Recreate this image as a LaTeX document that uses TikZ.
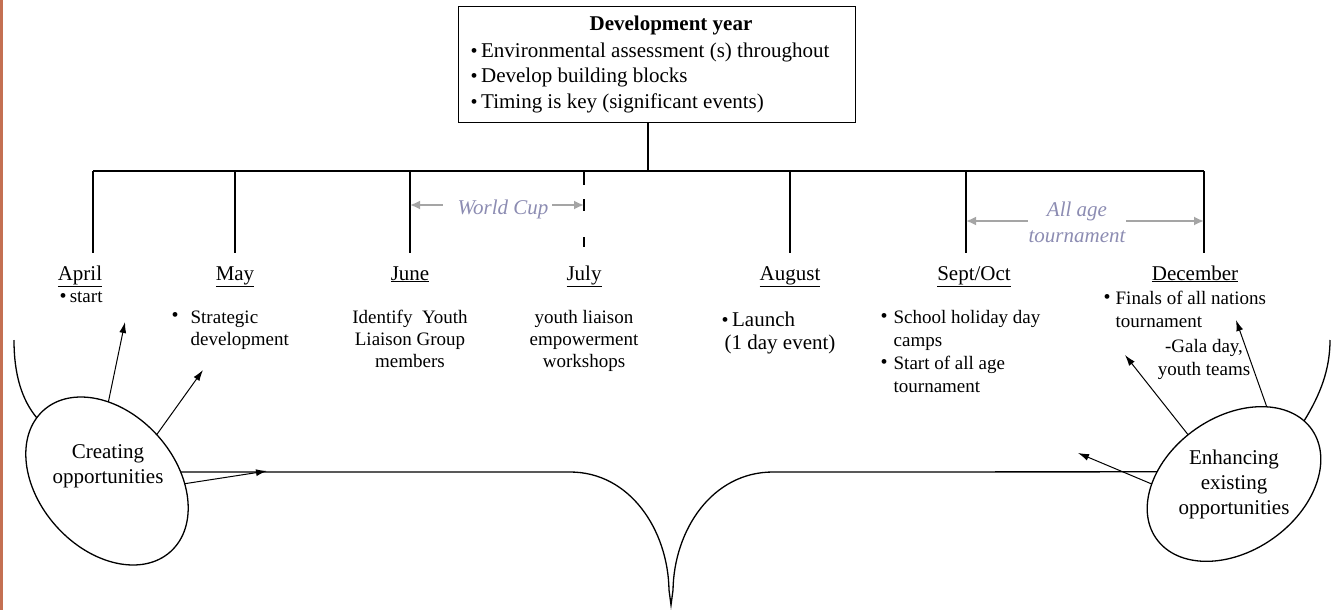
\documentclass[tikz,border=0pt]{standalone}
\usepackage{fontspec}
\setmainfont{Liberation Serif}
\usetikzlibrary{arrows.meta,shapes.geometric}
\definecolor{copper}{RGB}{196,112,82}
\definecolor{spangray}{RGB}{165,165,165}
\definecolor{spantext}{RGB}{140,140,178}
\newcommand{\dotmark}{{\fontsize{20}{20}\selectfont\textbullet}}

\begin{document}
\begin{tikzpicture}[x=1pt, y=-1pt, line width=1.3pt]
  \useasboundingbox (0,0) rectangle (1335,610);
  \tikzstyle{every node}=[inner sep=0pt, font=\fontsize{21}{25}\selectfont]
  \tikzstyle{small}=[font=\fontsize{19}{22}\selectfont]
  \tikzstyle{ring}=[draw, ellipse, inner sep=0pt, outer sep=0pt]
  \tikzstyle{push}=[-{Latex[length=11pt, width=7pt]}, line width=1pt]
  \tikzstyle{span}=[draw=spangray, -{Latex[length=10pt, width=9pt]}, line width=1.8pt]
  \tikzstyle{spanlabel}=[text=spantext, font=\fontsize{21}{26}\selectfont\itshape]
  \tikzstyle{julydash}=[dash pattern=on 14pt off 14pt on 12pt off 26pt on 10pt]

  \fill[copper] (0,0) rectangle (2.5,610);

  % development year box
  \node[draw, minimum width=397pt, minimum height=116pt, anchor=north west] (year) at (458,6) {};
  \path (671,31) node[anchor=base, font=\fontsize{21}{25}\selectfont\bfseries] (yeartitle) {Development year};
  \foreach \i/\txt in {0/Environmental assessment (s) throughout, 1/Develop building blocks, 2/Timing is key (significant events)}
  {
    \path (470, 57+\i*25.5) node[anchor=base west] (yb\i) {\dotmark\,\txt};
  }

  % timeline bar and months
  \coordinate (bar) at (648,171);
  \coordinate (barL) at (93,171);
  \coordinate (barR) at (1204,171);
  \draw (bar |- year.south) -- (bar);
  \draw (barL) -- (barR);
  \foreach \x/\lx/\n/\s/\t in {93/80/apr/solid/April, 235/235/may/solid/May, 410/410/jun/solid/June,
    584/584/jul/julydash/July, 790/790/aug/solid/August, 966/974/sep/solid/{Sept/Oct}, 1204/1195/dec/solid/December}
  {
    \coordinate (top\n) at (\x,171);
    \path (\lx,280) node[anchor=base] (\n) {\underline{\t}};
    \draw[\s] (top\n) -- ++(0,82);
  }

  % spans
  \coordinate (wcy) at (503,205);
  \path (503,214) node[anchor=base, spanlabel] (wc) {World Cup};
  \draw[span] ([xshift=-14pt]wcy -| wc.west) -- (wcy -| topjun);
  \draw[span] ([xshift=3pt]wcy -| wc.east) -- (wcy -| topjul);
  \coordinate (aay) at (1077,221);
  \path (1077,216) node[anchor=base, spanlabel] (aa) {All age};
  \path (1077,242) node[anchor=base, spanlabel] (aat) {tournament};
  \draw[span] (aay -| aat.west) -- (aay -| topsep);
  \draw[span] (aay -| aat.east) -- (aay -| topdec);

  % month texts
  \path (59,302) node[anchor=base west, small] (apr0) {\dotmark\,start};

  \path (175,317) node (mayb) {\dotmark};
  \foreach \i/\txt in {0/Strategic, 1/development}
  {
    \path (190, 323+\i*22) node[anchor=base west, small] (may\i) {\txt};
  }
  \foreach \i/\txt in {0/Identify\ \ Youth, 1/Liaison Group, 2/members}
  {
    \path (410, 323+\i*22) node[anchor=base, small] (jun\i) {\txt};
  }
  \foreach \i/\txt in {0/youth liaison, 1/empowerment, 2/workshops}
  {
    \path (584, 323+\i*22) node[anchor=base, small] (jul\i) {\txt};
  }
  \path (721,326) node[anchor=base west] (aug0) {\dotmark\,Launch};
  \path (724,349) node[anchor=base west] (aug1) {(1 day event)};

  \path (884,318) node (sepb0) {\dotmark};
  \path (884,364) node (sepb1) {\dotmark};
  \foreach \i/\txt in {0/School holiday day, 1/camps, 2/Start of all age, 3/tournament}
  {
    \path (893, 323+\i*23) node[anchor=base west, small] (sep\i) {\txt};
  }
  \path (1107,299) node (decb) {\dotmark};
  \foreach \i/\txt in {0/Finals of all nations, 1/tournament}
  {
    \path (1115, 304+\i*23) node[anchor=base west, small] (dec\i) {\txt};
  }
  \foreach \i/\txt in {0/-Gala day{,}, 1/youth teams}
  {
    \path (1204, 352+\i*23) node[anchor=base, small] (gala\i) {\txt};
  }

  % opportunity rings
  \node[ring, minimum width=190pt, minimum height=136pt, rotate=-48] (creatingring) at (107,481) {};
  \node[align=center] (creating) at (108,466) {Creating\\opportunities};
  \node[ring, minimum width=190pt, minimum height=134pt, rotate=35] (enhancingring) at (1234,484) {};
  \node[align=center] (enhancing) at (1234,484) {Enhancing\\existing\\opportunities};

  % brace
  \coordinate (braceL) at (570,472);
  \coordinate (tip) at (671,605);
  \coordinate (braceR) at (773,472);
  \coordinate (outerL) at (14,340);
  \coordinate (outerR) at (1330,340);
  \draw (creatingring.55) -- (braceL) .. controls (630,472) and (668,530) .. (669,590) -- (tip)
    -- (673,590) .. controls (674,530) and (712,472) .. (braceR) -- (enhancingring.136);
  \draw (creatingring.186) .. controls (22,400) and (14,375) .. (outerL);
  \draw (enhancingring.7) .. controls (1320,395) and (1330,370) .. (outerR);

  % arrows
  \coordinate (toapr) at (125,322);
  \coordinate (tomay) at (203,370);
  \coordinate (tobar) at (267,471);
  \coordinate (tofinals) at (1125,355);
  \coordinate (togala) at (1236,320);
  \coordinate (tobarR) at (1078,453);
  \draw[push] (creatingring.137) -- (toapr);
  \draw[push] (creatingring.91) -- (tomay);
  \draw[push] (creatingring.46) -- (tobar);
  \draw[push] (enhancingring.98) -- (tofinals);
  \draw[push] (enhancingring.32) -- (togala);
  \draw[push] (enhancingring.145) -- (tobarR);
\end{tikzpicture}
\end{document}
